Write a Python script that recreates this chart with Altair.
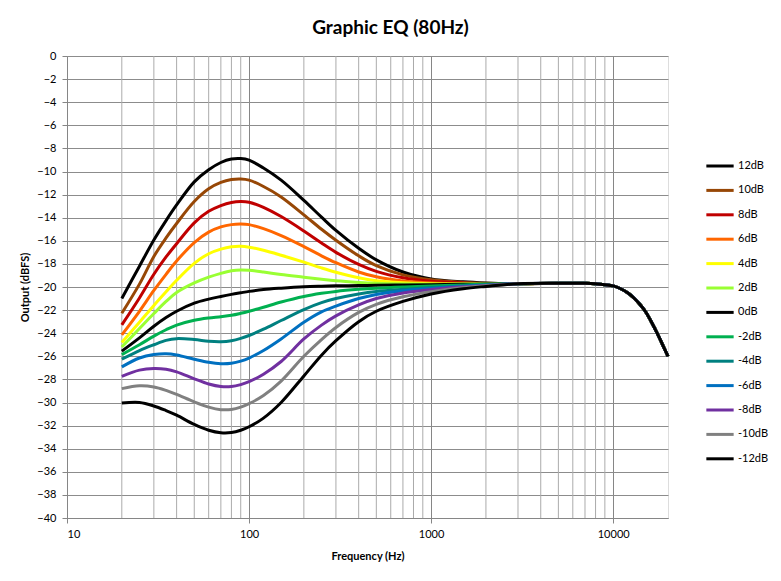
import altair as alt
import pandas as pd

FREQ_HEAD = [20, 25, 30, 35, 40, 50, 60, 70, 80, 90, 100, 120, 150, 200, 250,
             300, 400, 500, 700, 1000, 1500, 2000]
FREQ_TAIL = [3000, 5000, 7000, 8000, 10000, 11000, 12000, 13000, 14000, 15000,
             16000, 17000, 18000, 19000, 20000]
TAIL = [-19.72, -19.68, -19.68, -19.72, -19.9, -20.15, -20.5, -20.95, -21.5, -22.1,
        -22.85, -23.65, -24.45, -25.25, -26.0]

LABELS = ["12dB", "10dB", "8dB", "6dB", "4dB", "2dB", "0dB",
          "-2dB", "-4dB", "-6dB", "-8dB", "-10dB", "-12dB"]
COLORS = ["#000000", "#974706", "#C00000", "#FF6600", "#FFFF00", "#99FF33", "#000000",
          "#00B050", "#008080", "#0070C0", "#7030A0", "#808080", "#000000"]

G12 = [-21.0, -18.2, -15.93, -14.25, -12.9, -10.9, -9.85, -9.22, -8.92, -8.88, -9.02, -9.7,
       -10.75, -12.5, -13.95, -15.1, -16.65, -17.65, -18.7, -19.3, -19.55, -19.65]
G10 = [-22.27, -19.75, -17.35, -15.75, -14.5, -12.6, -11.5, -10.95, -10.7, -10.65, -10.75,
       -11.3, -12.2, -13.75, -15.0, -15.95, -17.3, -18.15, -18.95, -19.38, -19.6, -19.68]
G8 = [-23.28, -20.95, -18.9, -17.4, -16.25, -14.45, -13.45, -12.95, -12.68, -12.6, -12.66,
      -13.1, -13.9, -15.15, -16.2, -17.0, -18.05, -18.65, -19.2, -19.5, -19.65, -19.7]
G6 = [-24.15, -22.1, -20.3, -18.9, -17.75, -16.15, -15.25, -14.8, -14.6, -14.55, -14.6,
      -14.95, -15.55, -16.5, -17.3, -17.9, -18.7, -19.12, -19.48, -19.65, -19.72, -19.73]
G4 = [-24.8, -23.05, -21.6, -20.42, -19.42, -17.95, -17.12, -16.72, -16.52, -16.48, -16.55,
      -16.82, -17.25, -17.85, -18.35, -18.72, -19.2, -19.45, -19.63, -19.72, -19.74, -19.74]
G2 = [-25.2, -23.6, -22.3, -21.25, -20.48, -19.65, -19.15, -18.82, -18.6, -18.52, -18.55,
      -18.7, -18.92, -19.15, -19.33, -19.46, -19.6, -19.68, -19.74, -19.76, -19.75, -19.74]
G0 = [-25.55, -24.4, -23.4, -22.65, -22.1, -21.4, -21.05, -20.82, -20.64, -20.5, -20.38,
      -20.22, -20.1, -19.98, -19.93, -19.9, -19.87, -19.85, -19.82, -19.8, -19.77, -19.75]
GM2 = [-25.85, -25.0, -24.25, -23.7, -23.3, -22.88, -22.68, -22.57, -22.45, -22.28, -22.1,
       -21.75, -21.3, -20.82, -20.55, -20.38, -20.2, -20.1, -20.0, -19.92, -19.82, -19.77]
GM4 = [-26.25, -25.5, -25.0, -24.62, -24.47, -24.55, -24.7, -24.74, -24.65, -24.45, -24.2,
       -23.65, -22.9, -21.95, -21.35, -21.0, -20.6, -20.38, -20.2, -20.05, -19.9, -19.82]
GM6 = [-26.92, -26.15, -25.85, -25.78, -25.88, -26.25, -26.52, -26.64, -26.6, -26.42, -26.15,
       -25.5, -24.5, -23.05, -22.15, -21.65, -21.0, -20.65, -20.32, -20.12, -19.95, -19.85]
GM8 = [-27.74, -27.2, -27.05, -27.12, -27.35, -27.95, -28.4, -28.62, -28.62, -28.45, -28.2,
       -27.55, -26.45, -24.5, -23.3, -22.5, -21.55, -21.0, -20.52, -20.22, -19.98, -19.87]
GM10 = [-28.8, -28.55, -28.65, -28.95, -29.3, -29.95, -30.4, -30.62, -30.6, -30.4, -30.1,
        -29.4, -28.15, -26.0, -24.55, -23.5, -22.2, -21.5, -20.85, -20.4, -20.05, -19.9]
GM12 = [-30.05, -30.0, -30.3, -30.7, -31.1, -31.9, -32.4, -32.62, -32.6, -32.4, -32.1,
        -31.35, -30.0, -27.7, -25.9, -24.65, -23.0, -22.1, -21.25, -20.6, -20.15, -19.95]

SERIES = [G12, G10, G8, G6, G4, G2, G0, GM2, GM4, GM6, GM8, GM10, GM12]

MINOR_X = [20, 30, 40, 50, 60, 70, 80, 90, 200, 300, 400, 500, 600, 700, 800, 900,
           2000, 3000, 4000, 5000, 6000, 7000, 8000, 9000]
MAJOR_X = [10, 100, 1000, 10000]
Y_TICKS = list(range(-40, 1, 2))

rows = []
for i, (lab, vals) in enumerate(zip(LABELS, SERIES)):
    for f, v in zip(FREQ_HEAD + FREQ_TAIL, vals + TAIL):
        rows.append({"series": lab, "freq": f, "db": v, "idx": i})
df = pd.DataFrame(rows)
grid_df = pd.DataFrame({"freq": MINOR_X})

FONT = "Lato"
xscale = alt.Scale(type="log", domain=[10, 20000], nice=False)
yscale = alt.Scale(domain=[-40, 0], nice=False, zero=False)

minor = alt.Chart(grid_df).mark_rule(color="#ABABAB", strokeWidth=1).encode(
    x=alt.X("freq:Q", scale=xscale)
)

lines = alt.Chart(df).mark_line(strokeWidth=3, interpolate="catmull-rom").encode(
    x=alt.X("freq:Q", scale=xscale,
            axis=alt.Axis(values=MAJOR_X, format="d", title="Frequency (Hz)",
                          grid=True, gridColor="#868686", gridWidth=1,
                          domainColor="#868686", tickColor="#868686", tickSize=5,
                          labelPadding=5, labelFontSize=11, labelFont=FONT,
                          labelColor="#000000", titleFont=FONT, titleFontSize=11,
                          titleFontWeight="bold", titleColor="#000000", titlePadding=11)),
    y=alt.Y("db:Q", scale=yscale,
            axis=alt.Axis(values=Y_TICKS, format="d", title="Output (dBFS)",
                          grid=True, gridColor="#8C8C8C", gridWidth=1,
                          domainColor="#868686", tickColor="#868686", tickSize=5,
                          labelPadding=6, labelFontSize=11, labelFont=FONT,
                          labelColor="#000000", titleFont=FONT, titleFontSize=11,
                          titleFontWeight="bold", titleColor="#000000", titlePadding=6)),
    color=alt.Color("series:N", sort=LABELS,
                    scale=alt.Scale(domain=LABELS, range=COLORS),
                    legend=alt.Legend(title=None, orient="none", legendX=641, legendY=98,
                                      symbolType="M-1.3,0H1.3", symbolSize=441,
                                      symbolStrokeWidth=3, rowPadding=6.4, padding=0,
                                      labelFont=FONT, labelFontSize=11, labelColor="#000000",
                                      labelOffset=6)),
    order=alt.Order("idx:Q"),
)

chart = alt.layer(minor, lines).properties(
    width=601, height=462,
    title=alt.TitleParams("Graphic EQ (80Hz)", font=FONT, fontSize=19, fontWeight="bold",
                          color="#000000", anchor="middle", offset=12, dx=23),
    autosize=alt.AutoSizeParams(type="none"),
    padding={"left": 59, "top": 48, "right": 105, "bottom": 55},
).configure_view(stroke="#868686", strokeWidth=1).configure(background="white")

chart.save("out.html", embed_options={"renderer": "svg", "actions": False})
